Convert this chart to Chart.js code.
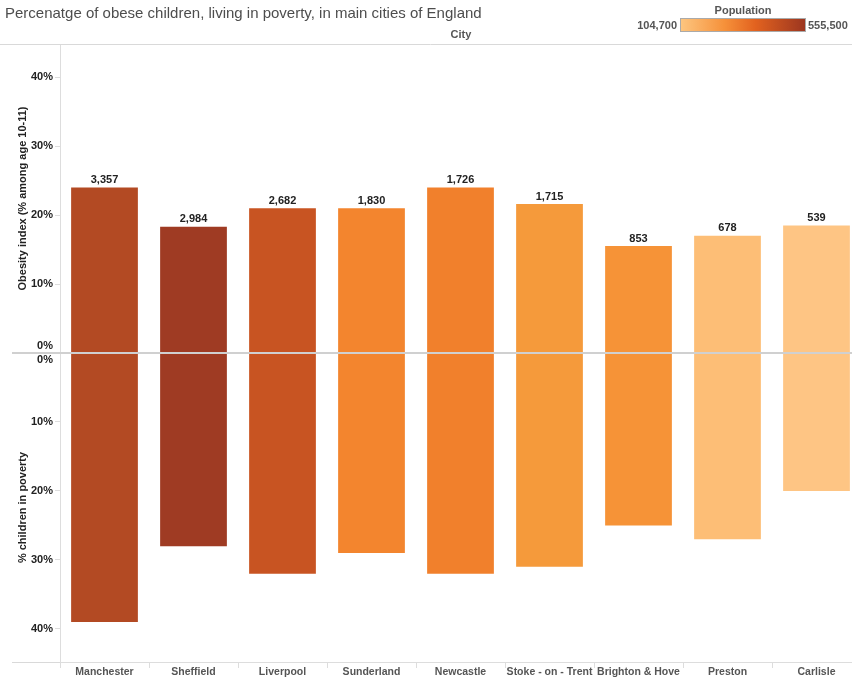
<!DOCTYPE html>
<html>
<head>
<meta charset="utf-8">
<script src="https://cdn.jsdelivr.net/npm/chart.js@4.4.1/dist/chart.umd.min.js"></script>
<style>
    body { margin: 0; background: #fff; }
    #wrap { position: relative; width: 852px; height: 679px; overflow: hidden; }
    #canvas { position: absolute; left: 0; top: 0; }
    .txt { position: absolute; font-family: "Liberation Sans", Arial, sans-serif; color: #555; white-space: nowrap; }
    #title { left: 5px; top: 4px; font-size: 15px; color: #4d4d4d; }
    #city { left: 441px; top: 28px; font-size: 11px; font-weight: bold; width: 40px; text-align: center; }
    #popTitle { left: 700px; top: 4px; font-size: 11px; font-weight: bold; width: 86px; text-align: center; }
    #popMin { left: 620px; top: 19px; font-size: 11px; font-weight: bold; width: 57px; text-align: right; }
    #popMax { left: 808px; top: 19px; font-size: 11px; font-weight: bold; }
    #popBar { position: absolute; left: 680px; top: 18px; width: 124px; height: 12px; border: 1px solid #aaa;
        background: linear-gradient(to right, #fdc57f, #f6913a 35%, #e2621f 60%, #9c3620); }
</style>
</head>
<body>
<div id="wrap">
    <canvas id="canvas" width="861" height="679"></canvas>
    <div class="txt" id="title">Percenatge of obese children, living in poverty, in main cities of England</div>
    <div class="txt" id="city">City</div>
    <div class="txt" id="popTitle">Population</div>
    <div class="txt" id="popMin">104,700</div>
    <div id="popBar"></div>
    <div class="txt" id="popMax">555,500</div>
</div>
<script>
var cities = ["Manchester", "Sheffield", "Liverpool", "Sunderland", "Newcastle",
    "Stoke - on - Trent", "Brighton & Hove", "Preston", "Carlisle"];
var obesity = [24, 18.3, 21, 21, 24, 21.6, 15.5, 17, 18.5];
var poverty = [39, 28, 32, 29, 32, 31, 25, 27, 20];
var obeseCounts = ["3,357", "2,984", "2,682", "1,830", "1,726", "1,715", "853", "678", "539"];
var cityColors = ["#b34a23", "#9f3b23", "#c85422", "#f3852e", "#f1802c",
    "#f59a3b", "#f69337", "#fdbe76", "#fec584"];

var FONT = "'Liberation Sans', Arial, sans-serif";

/* labels above bars + divider lines */
var extras = {
    id: 'extras',
    afterDraw: function (chart) {
        var ctx = chart.ctx;
        var yOb = chart.scales.yOb;
        var x = chart.scales.x;
        ctx.save();
        ctx.strokeStyle = '#d9d9d9';
        ctx.lineWidth = 1;
        ctx.beginPath();
        ctx.moveTo(0, chart.chartArea.top + 0.5);
        ctx.lineTo(chart.width, chart.chartArea.top + 0.5);
        ctx.moveTo(12, x.top + 0.5);
        ctx.lineTo(x.left, x.top + 0.5);
        ctx.stroke();
        ctx.strokeStyle = '#d0d0d0';
        ctx.lineWidth = 2;
        ctx.beginPath();
        var zy = Math.round(yOb.getPixelForValue(0));
        ctx.moveTo(12, zy);
        ctx.lineTo(chart.width, zy);
        ctx.stroke();

        ctx.fillStyle = '#222';
        ctx.font = 'bold 11px ' + FONT;
        ctx.textAlign = 'center';
        ctx.textBaseline = 'bottom';
        chart.getDatasetMeta(0).data.forEach(function (bar, i) {
            ctx.fillText(obeseCounts[i], bar.x, bar.y - 2);
        });
        ctx.restore();
    }
};

var yCommon = {
    type: 'linear',
    position: 'left',
    stack: 'pane',
    stackWeight: 1,
    min: 0,
    grid: { drawOnChartArea: false, drawTicks: true, tickLength: 5, color: '#ddd' },
    border: { color: '#ddd' },
    afterFit: function (scale) { scale.width = 48; }
};

var config = {
    type: 'bar',
    data: {
        labels: cities,
        datasets: [{
            label: 'Obesity index',
            data: obesity,
            backgroundColor: cityColors,
            yAxisID: 'yOb',
            grouped: false,
            barPercentage: 0.75,
            categoryPercentage: 1
        }, {
            label: '% children in poverty',
            data: poverty,
            backgroundColor: cityColors,
            yAxisID: 'yPov',
            grouped: false,
            barPercentage: 0.75,
            categoryPercentage: 1
        }]
    },
    options: {
        responsive: false,
        animation: false,
        layout: { padding: { top: 44, left: 12, right: 0, bottom: 0 } },
        plugins: { legend: { display: false }, tooltip: { enabled: false } },
        scales: {
            x: {
                grid: { offset: true, drawOnChartArea: false, drawTicks: true, tickLength: 6, color: '#ddd' },
                border: { color: '#ddd' },
                ticks: { color: '#555', font: { family: FONT, size: 10.5, weight: 'bold' }, padding: -2, maxRotation: 0, autoSkip: false },
                afterFit: function (scale) { scale.height = 17; }
            },
            yPov: Object.assign({}, yCommon, {
                max: 44.8,
                reverse: true,
                title: { display: true, text: '% children in poverty', color: '#222', font: { family: FONT, size: 11, weight: 'bold' }, padding: 4 },
                ticks: {
                    stepSize: 10, includeBounds: false, padding: 2, color: '#222',
                    font: { family: FONT, size: 11, weight: 'bold' },
                    callback: function (v) { return v === 0 ? ['', '0%'] : v + '%'; }
                }
            }),
            yOb: Object.assign({}, yCommon, {
                max: 44.8,
                title: { display: true, text: 'Obesity index (% among age 10-11)', color: '#222', font: { family: FONT, size: 11, weight: 'bold' }, padding: 4 },
                ticks: {
                    stepSize: 10, includeBounds: false, padding: 2, color: '#222',
                    font: { family: FONT, size: 11, weight: 'bold' },
                    callback: function (v) { return v === 0 ? ['0%', ''] : v + '%'; }
                }
            })
        }
    },
    plugins: [extras]
};

var ctx = document.getElementById("canvas").getContext("2d");
new Chart(ctx, config);
</script>
</body>
</html>
